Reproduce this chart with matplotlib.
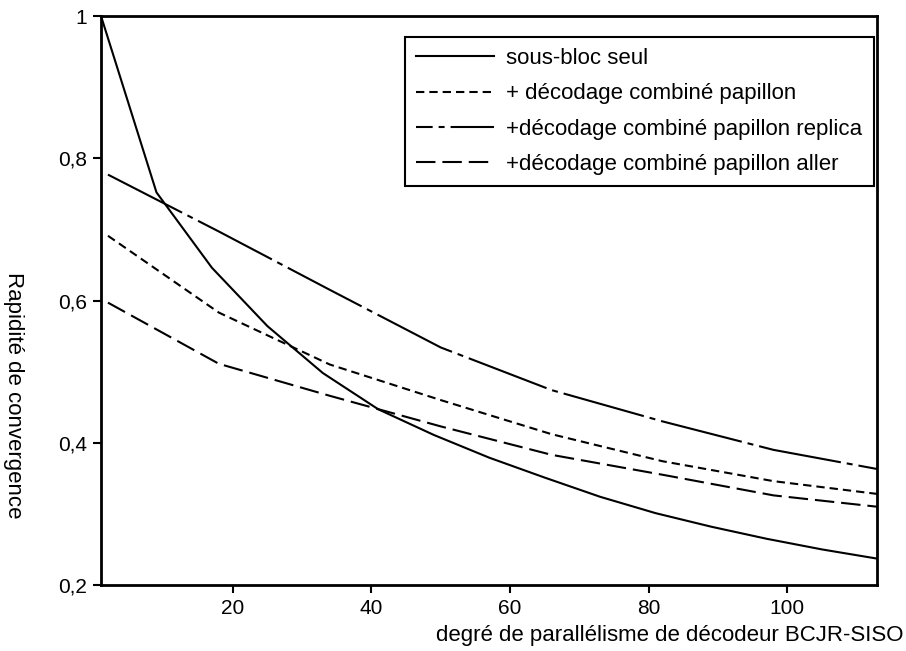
import matplotlib
matplotlib.use("Agg")
import matplotlib.pyplot as plt

plt.rcParams['font.family'] = ['Liberation Sans', 'DejaVu Sans']
plt.rcParams['lines.scale_dashes'] = False

# degré de parallélisme
x_seul = [1, 9, 17, 25, 33, 41, 49, 57, 65, 73, 81, 89, 97, 105, 113]
x_comb = [2, 18, 34, 50, 66, 82, 98, 113]

# rapidité de convergence
y_seul = [1.0, 0.752, 0.646, 0.564, 0.498, 0.447, 0.411, 0.379, 0.351, 0.324,
          0.301, 0.282, 0.265, 0.250, 0.237]
y_papillon = [0.691, 0.583, 0.510, 0.460, 0.412, 0.374, 0.346, 0.328]
y_replica = [0.777, 0.697, 0.615, 0.534, 0.474, 0.430, 0.390, 0.363]
y_aller = [0.597, 0.511, 0.466, 0.423, 0.383, 0.355, 0.326, 0.310]

labels = ['sous-bloc seul', '+ décodage combiné papillon',
          '+décodage combiné papillon replica', '+décodage combiné papillon aller']

xticks = [20, 40, 60, 80, 100]
yticks = [0.2, 0.4, 0.6, 0.8, 1.0]
yticklabels = ['0,2', '0,4', '0,6', '0,8', '1']

fig = plt.figure(figsize=(9.06, 6.51), dpi=100)
ax = fig.add_axes([0.1115, 0.1014, 0.857, 0.874])

lw = 1.5
dd = (60, 4.3, 4.3, 4.3)
ax.plot(x_seul, y_seul, color='black', lw=lw, label=labels[0])
ax.plot(x_comb, y_papillon, color='black', lw=lw, dashes=(6, 3.6), label=labels[1])
ax.plot(x_comb, y_replica, color='black', lw=lw, dashes=dd, label=labels[2])
ax.plot(x_comb, y_aller, color='black', lw=lw, dashes=(14, 5), label=labels[3])

ax.set_xlim(1, 113)
ax.set_ylim(0.2, 1.0)
ax.set_xticks(xticks)
ax.set_yticks(yticks)
ax.set_yticklabels(yticklabels)
ax.tick_params(direction='out', length=6, width=1.5, labelsize=15, pad=4)
for s in ax.spines.values():
    s.set_linewidth(2)

leg = ax.legend(loc='upper right', bbox_to_anchor=(0.995, 0.963), borderaxespad=0,
                fancybox=False, edgecolor='black', framealpha=1, fontsize=16,
                handlelength=3.5, handletextpad=0.55, labelspacing=0.64,
                borderpad=0.5)
leg.get_frame().set_linewidth(1.5)
# motif trait-point visible dans la légende
leg.get_lines()[2].set_linestyle((48, dd))

fig.text(0.997, 1 - 636 / 651, 'degré de parallélisme de décodeur BCJR-SISO',
         ha='right', va='center', fontsize=16)
fig.text(13 / 906, 1 - 395 / 651, 'Rapidité de convergence', rotation=270,
         ha='center', va='center', fontsize=16)

fig.savefig('out.png', dpi=100)
